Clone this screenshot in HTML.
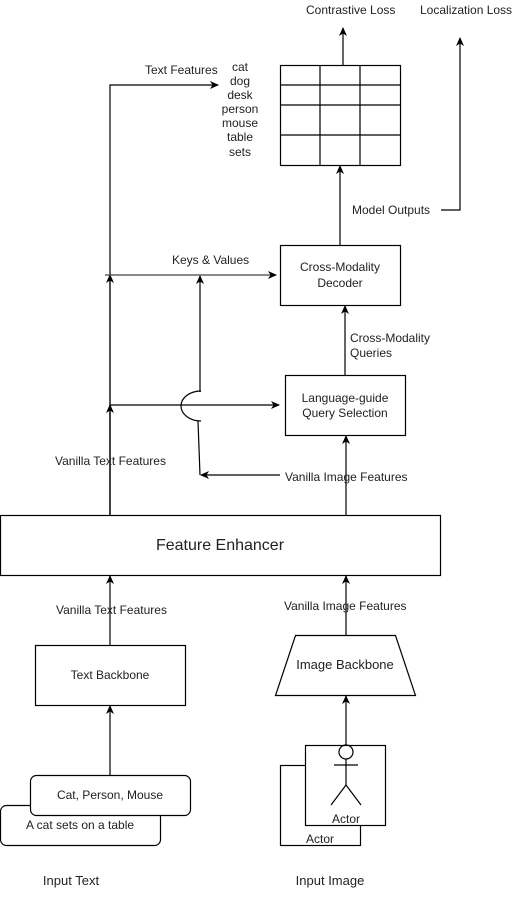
<!DOCTYPE html>
<html><head><style>body{margin:0;background:#fff}svg text{font-family:"Liberation Sans",sans-serif;font-size:12px;fill:#222}</style></head><body>
<svg width="521" height="895" xmlns="http://www.w3.org/2000/svg">
<defs><marker id="a" markerWidth="10" markerHeight="10" refX="8" refY="5" orient="auto" markerUnits="userSpaceOnUse"><path d="M0,1 L9,5 L0,9 L2.5,5 Z" fill="#000"/></marker></defs>
<g stroke="#000" fill="none" stroke-width="1.2">
<rect x="280.5" y="65.5" width="120" height="100"/>
<line x1="320" y1="65" x2="320" y2="165"/><line x1="360" y1="65" x2="360" y2="165"/>
<line x1="280" y1="85" x2="400" y2="85"/><line x1="280" y1="105" x2="400" y2="105"/><line x1="280" y1="135" x2="400" y2="135"/>
<line x1="343" y1="65" x2="343" y2="28" marker-end="url(#a)"/>
<polyline points="441,210 460,210 460,38" marker-end="url(#a)"/>
<polyline points="110,515 110,85 218,85" marker-end="url(#a)"/>
<line x1="110" y1="515" x2="110" y2="275" marker-end="url(#a)"/>
<line x1="110" y1="515" x2="110" y2="405" marker-end="url(#a)"/>
<line x1="105" y1="275" x2="276" y2="275" marker-end="url(#a)" stroke="#444"/>
<line x1="200" y1="392" x2="200" y2="276" marker-end="url(#a)"/>
<rect x="280.5" y="245.5" width="120" height="60"/>
<line x1="340" y1="245" x2="340" y2="166" marker-end="url(#a)"/>
<rect x="285.5" y="375.5" width="120" height="60"/>
<line x1="345" y1="375" x2="345" y2="306" marker-end="url(#a)"/>
<line x1="110" y1="405" x2="279" y2="405" marker-end="url(#a)"/>
<path d="M201,391 A20,15 0 0 0 201,421"/>
<polyline points="198,421 200,475"/>
<line x1="280" y1="475" x2="201" y2="475" marker-end="url(#a)"/>
<line x1="346" y1="515" x2="346" y2="436" marker-end="url(#a)"/>
<rect x="0.5" y="515.5" width="440" height="60"/>
<line x1="110" y1="645" x2="110" y2="576" marker-end="url(#a)"/>
<line x1="346" y1="635" x2="346" y2="576" marker-end="url(#a)"/>
<rect x="35.5" y="645.5" width="150" height="60"/>
<polygon points="295.5,635.5 395.5,635.5 415.5,695.5 275.5,695.5"/>
<line x1="346" y1="745" x2="346" y2="696" marker-end="url(#a)"/>
<line x1="110" y1="775" x2="110" y2="706" marker-end="url(#a)"/>
<rect x="0.5" y="805.5" width="160" height="40" rx="6" fill="#fff"/>
<rect x="30.5" y="775.5" width="160" height="40" rx="6" fill="#fff"/>
<rect x="280.5" y="765.5" width="80" height="80" fill="#fff"/>
<rect x="305.5" y="745.5" width="80" height="80" fill="#fff"/>
<circle cx="346" cy="752" r="7"/>
<line x1="346" y1="759" x2="346" y2="785"/><line x1="334" y1="765" x2="358" y2="765"/>
<polyline points="331,805 346,785 361,805"/>
</g>
<text x="306" y="14">Contrastive Loss</text>
<text x="420" y="14">Localization Loss</text>
<text x="145" y="74">Text Features</text>
<g text-anchor="middle"><text x="240" y="71">cat</text><text x="240" y="85">dog</text><text x="240" y="99">desk</text><text x="240" y="113">person</text><text x="240" y="127">mouse</text><text x="240" y="141">table</text><text x="240" y="156">sets</text>
<text x="340" y="271">Cross-Modality</text><text x="340" y="287">Decoder</text>
<text x="345" y="402">Language-guide</text><text x="345" y="417">Query Selection</text>
<text x="220" y="550" style="font-size:16px">Feature Enhancer</text>
<text x="110" y="679">Text Backbone</text>
<text x="345" y="669" style="font-size:13px">Image Backbone</text>
<text x="110" y="799">Cat, Person, Mouse</text>
<text x="346" y="823">Actor</text><text x="320" y="843">Actor</text>
<text x="71" y="885" style="font-size:13px">Input Text</text><text x="330" y="885" style="font-size:13px">Input Image</text>
</g>
<text x="352" y="214">Model Outputs</text>
<text x="172" y="264">Keys &amp; Values</text>
<text x="350" y="342">Cross-Modality</text><text x="350" y="357">Queries</text>
<text x="55" y="465">Vanilla Text Features</text>
<text x="285" y="481">Vanilla Image Features</text>
<text x="56" y="614">Vanilla Text Features</text>
<text x="284" y="610">Vanilla Image Features</text>
<text x="26" y="829">A cat sets on a table</text>
</svg></body></html>
